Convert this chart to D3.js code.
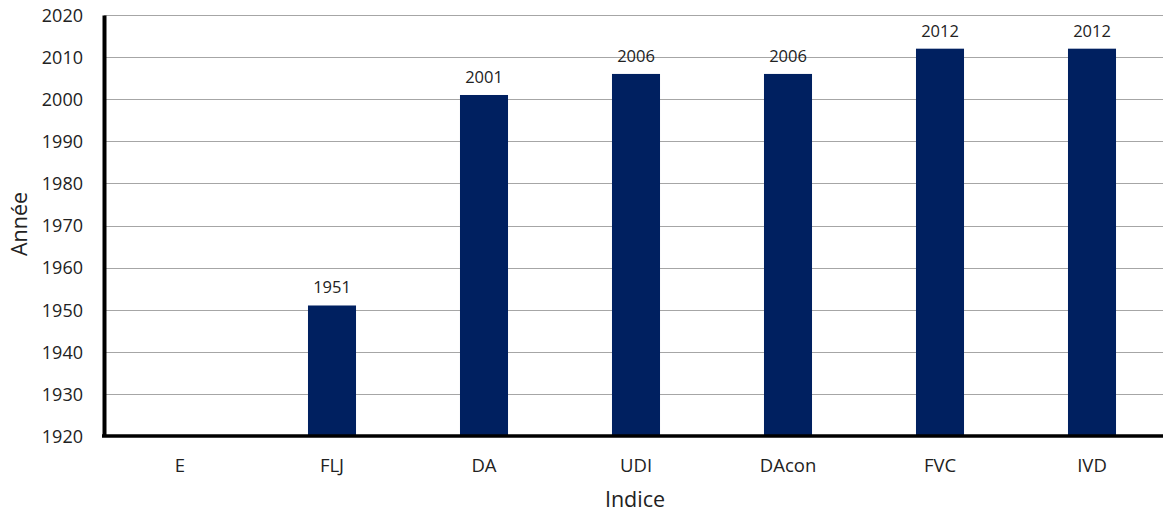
<!DOCTYPE html>
<html>
<head>
<meta charset="utf-8">
<script src="https://cdn.jsdelivr.net/npm/d3@7"></script>
<style>
  html, body { margin: 0; padding: 0; background: #fff; }
  svg { display: block; }
  text { font-family: "Open Sans", "Noto Sans", sans-serif; fill: #222; }
</style>
</head>
<body>
<svg id="chart" width="1163" height="512"></svg>
<script>
// Year of introduction per index
const categories = ["E", "FLJ", "DA", "UDI", "DAcon", "FVC", "IVD"];
const years = [null, 1951, 2001, 2006, 2006, 2012, 2012];
const yTicks = [1920, 1930, 1940, 1950, 1960, 1970, 1980, 1990, 2000, 2010, 2020];

const svg = d3.select("#chart");
const plot = { left: 104, right: 1168, top: 15, bottom: 436 };

const x = d3.scaleBand().domain(categories).range([plot.left, plot.right]).padding(0);
const y = d3.scaleLinear().domain([1920, 2020]).range([plot.bottom, plot.top]);
const barW = x.bandwidth() * 0.316;

// horizontal gridlines
svg.append("g")
  .selectAll("line")
  .data(yTicks.slice(1))
  .join("line")
  .attr("x1", plot.left).attr("x2", plot.right)
  .attr("y1", d => Math.round(y(d)) + 0.5).attr("y2", d => Math.round(y(d)) + 0.5)
  .attr("stroke", "#a6a6a6").attr("stroke-width", 1);

// bars
const data = categories.map((c, i) => ({ c, v: years[i] })).filter(d => d.v != null);
svg.append("g")
  .selectAll("rect")
  .data(data)
  .join("rect")
  .attr("x", d => x(d.c) + x.bandwidth() / 2 - barW / 2)
  .attr("width", barW)
  .attr("y", d => y(d.v))
  .attr("height", d => y(1920) - y(d.v))
  .attr("fill", "#002060");

// value labels
svg.append("g")
  .selectAll("text")
  .data(data)
  .join("text")
  .attr("x", d => x(d.c) + x.bandwidth() / 2)
  .attr("y", d => y(d.v) - 12)
  .attr("text-anchor", "middle")
  .attr("font-size", 16.5)
  .text(d => d.v);

// y axis
const yAxis = svg.append("g")
  .attr("transform", `translate(${plot.left},0)`)
  .call(d3.axisLeft(y).tickValues(yTicks).tickFormat(d3.format("d")).tickSize(0).tickPadding(21));
yAxis.select(".domain").attr("stroke", "#000").attr("stroke-width", 4);
yAxis.selectAll("text").attr("font-size", 18).attr("dy", "0.35em")
  .style("font-family", "'Open Sans', sans-serif").attr("fill", "#222");

// x axis
const xAxis = svg.append("g")
  .attr("transform", `translate(0,${plot.bottom})`)
  .call(d3.axisBottom(x).tickSize(0).tickPadding(23));
xAxis.select(".domain").attr("stroke", "#000").attr("stroke-width", 3.5)
  .attr("d", `M${plot.left - 2},0H${plot.right}`);
xAxis.selectAll("text").attr("font-size", 18.5)
  .style("font-family", "'Open Sans', sans-serif").attr("fill", "#222");

// axis titles
svg.append("text")
  .attr("transform", `translate(27,224) rotate(-90)`)
  .attr("text-anchor", "middle")
  .attr("font-size", 21.5)
  .text("Année");

svg.append("text")
  .attr("x", 635).attr("y", 507)
  .attr("text-anchor", "middle")
  .attr("font-size", 21.5)
  .text("Indice");
</script>
</body>
</html>
